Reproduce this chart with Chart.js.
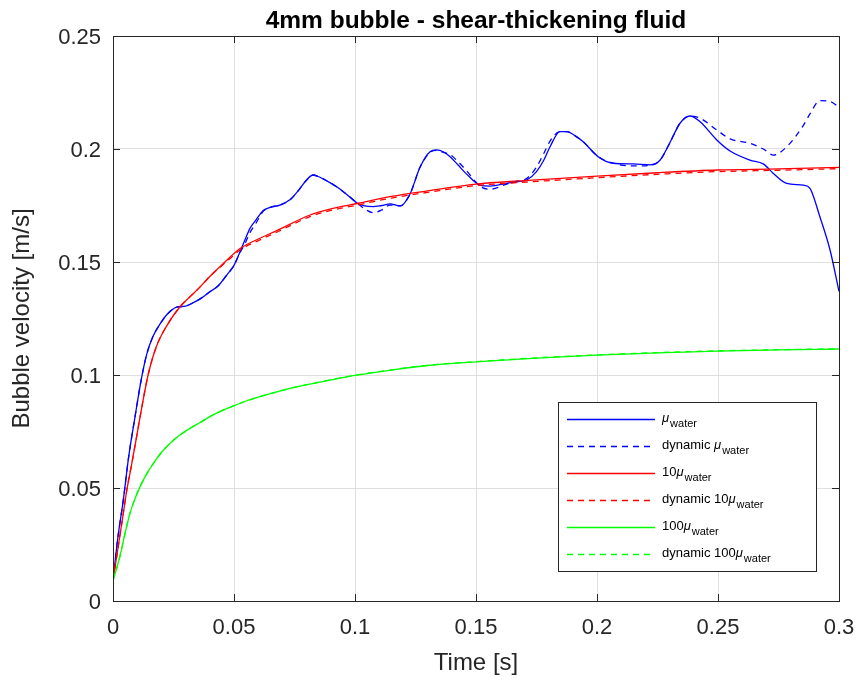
<!DOCTYPE html>
<html>
<head>
<meta charset="utf-8">
<script src="https://cdn.jsdelivr.net/npm/chart.js@4.4.1/dist/chart.umd.min.js"></script>
<style>
html,body{margin:0;padding:0;background:#fff;}
#wrap{width:857px;height:680px;}
</style>
</head>
<body>
<div id="wrap"><canvas id="c" width="857" height="680"></canvas></div>
<script>
// ---- Data ----
const chartTitle = "4mm bubble - shear-thickening fluid";
const xTitle = "Time [s]";
const yTitle = "Bubble velocity [m/s]";
const xTickVals = [0, 0.05, 0.1, 0.15, 0.2, 0.25, 0.3];
const xTickLabels = ["0", "0.05", "0.1", "0.15", "0.2", "0.25", "0.3"];
const yTickVals = [0, 0.05, 0.1, 0.15, 0.2, 0.25];
const yTickLabels = ["0", "0.05", "0.1", "0.15", "0.2", "0.25"];

const blueT = [0, 0.002, 0.0043, 0.0065, 0.0091, 0.0115, 0.0139, 0.0165, 0.0194, 0.0225,
  0.0263, 0.030, 0.0332, 0.0365, 0.040, 0.0435, 0.047, 0.050, 0.0525, 0.0545,
  0.0566, 0.059, 0.0621, 0.065, 0.069, 0.0731, 0.0765, 0.080, 0.0826, 0.0855,
  0.089, 0.0924, 0.0965, 0.101, 0.104, 0.1075, 0.111, 0.1145, 0.1186, 0.1227,
  0.1269, 0.131, 0.1337, 0.1365, 0.1393, 0.1425, 0.146, 0.1517, 0.1558, 0.1627,
  0.167, 0.171, 0.175, 0.178, 0.1806, 0.1847, 0.1875, 0.191, 0.1943, 0.2005,
  0.2067, 0.215, 0.222, 0.226, 0.230, 0.2343, 0.2384, 0.2426, 0.2495, 0.255,
  0.2632, 0.2687, 0.2729, 0.2784, 0.2853, 0.288, 0.2921, 0.2963, 0.3];
const blueV = [0.009, 0.028, 0.045, 0.064, 0.0815, 0.097, 0.109, 0.117, 0.1225, 0.127,
  0.130, 0.1305, 0.132, 0.134, 0.1368, 0.1395, 0.1442, 0.1485, 0.1545, 0.1597,
  0.1649, 0.1685, 0.1728, 0.1742, 0.1752, 0.1775, 0.1815, 0.1863, 0.1885, 0.1875,
  0.1855, 0.1833, 0.180, 0.176, 0.1748, 0.1745, 0.175, 0.1757, 0.1748, 0.180,
  0.192, 0.1988, 0.1996, 0.1988, 0.1966, 0.193, 0.189, 0.184, 0.1836, 0.1848,
  0.1855, 0.1863, 0.190, 0.195, 0.201, 0.2077, 0.2077, 0.2058, 0.2032, 0.1966,
  0.1937, 0.1934, 0.193, 0.195, 0.2025, 0.2114, 0.2146, 0.2121, 0.204, 0.1991,
  0.1951, 0.1934, 0.1892, 0.1848, 0.184, 0.1826, 0.170, 0.1553, 0.137];

const dynBlueT = blueT;
const dynBlueV = [0.009, 0.028, 0.045, 0.064, 0.0815, 0.097, 0.109, 0.117, 0.1225, 0.127,
  0.130, 0.1305, 0.132, 0.134, 0.1368, 0.1395, 0.1442, 0.1485, 0.1542, 0.158,
  0.163, 0.167, 0.1725, 0.1742, 0.1752, 0.1775, 0.1815, 0.1863, 0.1885, 0.1875,
  0.1855, 0.1833, 0.180, 0.176, 0.1735, 0.1718, 0.173, 0.1752, 0.1748, 0.180,
  0.192, 0.1985, 0.1994, 0.1985, 0.1975, 0.1945, 0.1905, 0.1835, 0.1822, 0.1845,
  0.1858, 0.187, 0.192, 0.198, 0.2035, 0.2077, 0.2077, 0.2058, 0.2032, 0.1966,
  0.1937, 0.1925, 0.1928, 0.195, 0.2025, 0.2114, 0.2146, 0.2136, 0.2084, 0.2045,
  0.2025, 0.2000, 0.1973, 0.201, 0.2105, 0.2155, 0.2214, 0.221, 0.2185];

const redT = [0, 0.002, 0.004, 0.0057, 0.0078, 0.0098, 0.0117, 0.0145, 0.0179, 0.022,
  0.0277, 0.032, 0.036, 0.040, 0.0442, 0.048, 0.0525, 0.0607, 0.0683, 0.0814,
  0.09, 0.1014, 0.115, 0.13, 0.15, 0.17, 0.2, 0.225, 0.25, 0.275,
  0.3];
const redV = [0.009, 0.023, 0.037, 0.049, 0.061, 0.073, 0.0845, 0.1, 0.1125, 0.1214,
  0.1302, 0.1348, 0.139, 0.1436, 0.1479, 0.1518, 0.1560, 0.1605, 0.1642, 0.1708,
  0.1735, 0.176, 0.179, 0.1815, 0.1845, 0.186, 0.188, 0.1895, 0.1907, 0.1912,
  0.1919];
const dynRedT = redT;
const dynRedV = [0.009, 0.023, 0.037, 0.049, 0.061, 0.073, 0.0845, 0.1, 0.1125, 0.1214,
  0.1302, 0.1348, 0.139, 0.1436, 0.1476, 0.1512, 0.1553, 0.1598, 0.1635, 0.1701,
  0.1728, 0.1753, 0.1783, 0.1808, 0.1838, 0.1853, 0.1873, 0.1888, 0.1900, 0.1906,
  0.1913];

const greenT = [0, 0.0015, 0.0029, 0.005, 0.007, 0.009, 0.0112, 0.0138, 0.0167, 0.02,
  0.0236, 0.0275, 0.0318, 0.036, 0.040, 0.045, 0.0497, 0.055, 0.0607, 0.067,
  0.0731, 0.0814, 0.09, 0.1, 0.115, 0.13, 0.15, 0.175, 0.2, 0.225,
  0.25, 0.275, 0.3];
const greenV = [0.009, 0.0145, 0.02, 0.03, 0.0388, 0.045, 0.0506, 0.056, 0.0609, 0.0657,
  0.0698, 0.0733, 0.0764, 0.079, 0.0816, 0.0842, 0.0863, 0.0885, 0.0904, 0.0923,
  0.0941, 0.096, 0.0978, 0.0998, 0.1022, 0.1042, 0.1058, 0.1075, 0.1088, 0.1098,
  0.1106, 0.1111, 0.1115];
const dynGreenT = greenT;
const dynGreenV = [0.009, 0.0145, 0.02, 0.03, 0.0388, 0.045, 0.0506, 0.056, 0.0609, 0.0657,
  0.0698, 0.0733, 0.0764, 0.079, 0.0816, 0.0842, 0.0863, 0.0885, 0.0904, 0.0923,
  0.0941, 0.096, 0.0979, 0.0999, 0.1023, 0.1043, 0.1059, 0.1076, 0.1089, 0.1099,
  0.1107, 0.1112, 0.1116];

const legendPrefix = ["", "dynamic ", "10", "dynamic 10", "100", "dynamic 100"];
const legendSymbol = "\u03bc";
const legendSub = "water";

// ---- Build datasets ----
function pts(t, v) { return t.map((x, i) => ({ x: x, y: v[i] })); }
const seriesDefs = [
  { t: blueT, v: blueV, color: "#0000ff", dash: [] },
  { t: dynBlueT, v: dynBlueV, color: "#0000ff", dash: [6, 5] },
  { t: redT, v: redV, color: "#ff0000", dash: [] },
  { t: dynRedT, v: dynRedV, color: "#ff0000", dash: [6, 5] },
  { t: greenT, v: greenV, color: "#00ff00", dash: [] },
  { t: dynGreenT, v: dynGreenV, color: "#00ff00", dash: [6, 5] }
];
const datasets = seriesDefs.map((s, i) => ({
  label: legendPrefix[i] + legendSymbol + legendSub,
  data: pts(s.t, s.v),
  borderColor: s.color,
  backgroundColor: s.color,
  borderWidth: 1.3,
  borderDash: s.dash,
  pointRadius: 0,
  fill: false,
  cubicInterpolationMode: "monotone",
  order: 10 - i
}));

const AX = "#262626";
const FONT = "'Liberation Sans', Arial, Helvetica, sans-serif";

const decor = {
  id: "decor",
  afterDatasetsDraw(chart) {
    const ctx = chart.ctx;
    const a = chart.chartArea;
    const xs = chart.scales.x, ys = chart.scales.y;
    ctx.save();
    // box
    ctx.strokeStyle = AX;
    ctx.lineWidth = 1;
    ctx.setLineDash([]);
    ctx.strokeRect(Math.round(a.left) + 0.5, Math.round(a.top) + 0.5,
      Math.round(a.right - a.left), Math.round(a.bottom - a.top));
    // inward ticks
    const tl = 7;
    ctx.beginPath();
    xTickVals.forEach(v => {
      const px = Math.round(xs.getPixelForValue(v)) + 0.5;
      ctx.moveTo(px, a.bottom); ctx.lineTo(px, a.bottom - tl);
      ctx.moveTo(px, a.top); ctx.lineTo(px, a.top + tl);
    });
    yTickVals.forEach(v => {
      const py = Math.round(ys.getPixelForValue(v)) + 0.5;
      ctx.moveTo(a.left, py); ctx.lineTo(a.left + tl, py);
      ctx.moveTo(a.right, py); ctx.lineTo(a.right - tl, py);
    });
    ctx.stroke();

    // title
    ctx.fillStyle = "#000";
    ctx.font = "bold 24.5px " + FONT;
    ctx.textAlign = "center";
    ctx.textBaseline = "middle";
    ctx.fillText(chartTitle, (a.left + a.right) / 2, 21);
    // axis titles
    ctx.fillStyle = AX;
    ctx.font = "24px " + FONT;
    ctx.fillText(xTitle, (a.left + a.right) / 2, 663);
    ctx.save();
    ctx.translate(22, (a.top + a.bottom) / 2);
    ctx.rotate(-Math.PI / 2);
    ctx.fillText(yTitle, 0, 0);
    ctx.restore();

    // legend
    const lx = 558, ly = 402, lw = 258, lh = 169;
    ctx.fillStyle = "#fff";
    ctx.fillRect(lx, ly, lw, lh);
    ctx.strokeStyle = AX;
    ctx.lineWidth = 1;
    ctx.strokeRect(lx + 0.5, ly + 0.5, lw, lh);
    const rowY0 = 419, rowStep = 27;
    chart.data.datasets.forEach((ds, i) => {
      const y = rowY0 + i * rowStep;
      ctx.strokeStyle = ds.borderColor;
      ctx.lineWidth = 1.3;
      ctx.setLineDash(ds.borderDash || []);
      ctx.beginPath();
      ctx.moveTo(567, y + 0.5); ctx.lineTo(655, y + 0.5);
      ctx.stroke();
      ctx.setLineDash([]);
      let x = 662;
      const base = y + 3;
      ctx.fillStyle = "#000";
      ctx.textAlign = "left";
      ctx.textBaseline = "alphabetic";
      ctx.font = "13px " + FONT;
      ctx.fillText(legendPrefix[i], x, base);
      x += ctx.measureText(legendPrefix[i]).width;
      ctx.font = "italic 13px " + FONT;
      ctx.fillText(legendSymbol, x, base);
      x += ctx.measureText(legendSymbol).width + 1;
      ctx.font = "11px " + FONT;
      ctx.fillText(legendSub, x, base + 5);
    });
    ctx.restore();
  }
};

new Chart(document.getElementById("c"), {
  type: "line",
  data: { datasets: datasets },
  options: {
    responsive: false,
    animation: false,
    devicePixelRatio: 1,
    layout: { padding: { top: 36, right: 18, left: 0, bottom: 0 } },
    plugins: { legend: { display: false }, tooltip: { enabled: false }, title: { display: false } },
    scales: {
      x: {
        type: "linear",
        min: 0, max: 0.3,
        afterFit: s => { s.height = 79; s.paddingLeft = 0; s.paddingRight = 0; },
        afterBuildTicks: s => { s.ticks = xTickVals.map(v => ({ value: v })); },
        ticks: {
          callback: (v, i) => xTickLabels[i],
          color: AX,
          font: { family: FONT, size: 22 },
          padding: 14,
          maxRotation: 0,
          autoSkip: false
        },
        grid: { color: "#dfdfdf", drawTicks: false, lineWidth: 1 },
        border: { display: false }
      },
      y: {
        type: "linear",
        min: 0, max: 0.25,
        afterFit: s => { s.width = 113; s.paddingTop = 0; s.paddingBottom = 0; },
        afterBuildTicks: s => { s.ticks = yTickVals.map(v => ({ value: v })); },
        ticks: {
          callback: (v, i) => yTickLabels[i],
          color: AX,
          font: { family: FONT, size: 22 },
          padding: 12,
          labelOffset: 2,
          autoSkip: false
        },
        grid: { color: "#dfdfdf", drawTicks: false, lineWidth: 1 },
        border: { display: false }
      }
    }
  },
  plugins: [decor]
});
</script>
</body>
</html>
